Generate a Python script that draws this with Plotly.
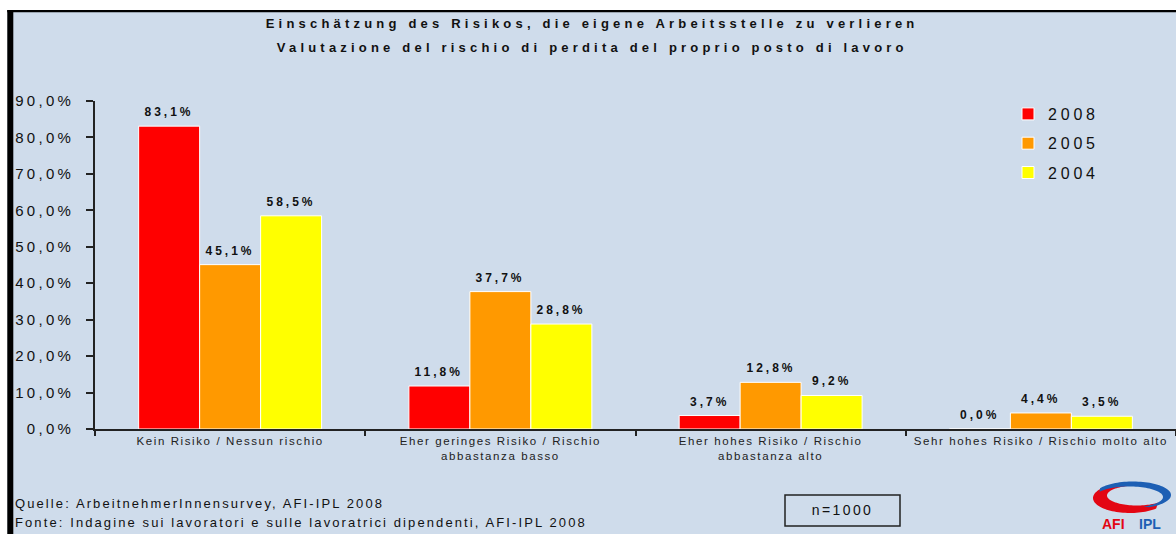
import json
import math
import plotly.graph_objects as go

# ---------------- data ----------------
categories = [
    "Kein Risiko / Nessun rischio",
    "Eher geringes Risiko / Rischio<br>abbastanza basso",
    "Eher hohes Risiko / Rischio<br>abbastanza alto",
    "Sehr hohes Risiko / Rischio molto alto",
]
series_names = ["2008", "2005", "2004"]
v2008 = [83.1, 11.8, 3.7, 0.0]
v2005 = [45.1, 37.7, 12.8, 4.4]
v2004 = [58.5, 28.8, 9.2, 3.5]
y_ticks = [0, 10, 20, 30, 40, 50, 60, 70, 80, 90]
y_tick_labels = ["0,0%", "10,0%", "20,0%", "30,0%", "40,0%", "50,0%",
                 "60,0%", "70,0%", "80,0%", "90,0%"]

title_lines = [
    "Einschätzung des Risikos, die eigene Arbeitsstelle zu verlieren",
    "Valutazione del rischio di perdita del proprio posto di lavoro",
]
footer_lines = [
    "Quelle: ArbeitnehmerInnensurvey, AFI-IPL 2008",
    "Fonte: Indagine sui lavoratori e sulle lavoratrici dipendenti, AFI-IPL 2008",
]
n_label = "n=1000"

# ---------------- layout helpers ----------------
W, H = 1176, 534
ML, MR, MT, MB = 95, 0, 101, 105
PW, PH = W - ML - MR, H - MT - MB
BG = "#cfdceb"
FONT = "Liberation Sans, Arial, sans-serif"
colors = ["#ff0000", "#ff9900", "#ffff00"]
BARGAP = 0.323


def xp(px):
    return (px - ML) / PW


def yp(py):
    return (H - MB - py) / PH


fig = go.Figure()
all_vals = [v2008, v2005, v2004]
for name, vals, col in zip(series_names, all_vals, colors):
    fig.add_trace(go.Bar(
        x=categories, y=vals, name=name, legendgroup=name,
        marker=dict(color=col, line=dict(color="white", width=1)),
        hoverinfo="skip",
    ))

annotations = []
spacing = []

# data labels
bw = (1 - BARGAP) / 3
for i, vals in enumerate(all_vals):
    for j, v in enumerate(vals):
        annotations.append(dict(
            x=j + (i - 1) * bw, y=v, xref="x", yref="y",
            text=("%.1f%%" % v).replace(".", ","),
            showarrow=False, yanchor="bottom", xanchor="center", yshift=5,
            font=dict(family=FONT, size=12, color="#111111", weight="bold"),
        ))
        spacing.append(3.0)

# title lines
for t, py in zip(title_lines, [24, 47]):
    annotations.append(dict(
        x=xp(592), y=yp(py), xref="paper", yref="paper", text=t,
        showarrow=False, xanchor="center", yanchor="middle",
        font=dict(family=FONT, size=13, color="#111111", weight="bold"),
    ))
    spacing.append(4.2)

# footer lines
for t, py in zip(footer_lines, [503, 522]):
    annotations.append(dict(
        x=xp(13), y=yp(py), xref="paper", yref="paper", text=t,
        showarrow=False, xanchor="left", yanchor="middle", align="left",
        font=dict(family=FONT, size=13, color="#111111"),
    ))
    spacing.append(2.1)

# n=1000
annotations.append(dict(
    x=xp(842), y=yp(510), xref="paper", yref="paper", text=n_label,
    showarrow=False, xanchor="center", yanchor="middle",
    font=dict(family=FONT, size=14, color="#111111"),
))
spacing.append(2.4)

# logo text
annotations.append(dict(
    x=xp(1113), y=yp(514), xref="paper", yref="paper", text="AFI",
    showarrow=False, xanchor="center", yanchor="top",
    font=dict(family=FONT, size=14, color="#e30613", weight="bold"),
))
spacing.append(0)
annotations.append(dict(
    x=xp(1150), y=yp(514), xref="paper", yref="paper", text="IPL",
    showarrow=False, xanchor="center", yanchor="top",
    font=dict(family=FONT, size=14, color="#1d5fb4", weight="bold"),
))
spacing.append(0)

shapes = []


def rect_px(x0, y0, x1, y1, color):
    return dict(type="rect", xref="paper", yref="paper",
                x0=xp(x0), x1=xp(x1), y0=yp(y1), y1=yp(y0),
                fillcolor=color, line=dict(width=0), layer="above")


shapes.append(rect_px(0, 0, 7.3, H, "white"))
shapes.append(rect_px(0, 0, W, 10, "white"))
shapes.append(rect_px(7.3, 10, W, 12.3, "black"))
shapes.append(rect_px(7.3, 10, 13.3, H, "black"))
# n box
shapes.append(dict(type="rect", xref="paper", yref="paper",
                   x0=xp(785), x1=xp(900), y0=yp(526), y1=yp(495),
                   line=dict(color="#222222", width=1.5), fillcolor="rgba(0,0,0,0)"))


def crescent(o, inn, t0, t1, n=60):
    pts = []
    for k in range(n + 1):
        t = math.radians(t0 + (t1 - t0) * k / n)
        pts.append((o[0] + o[2] * math.cos(t), o[1] - o[3] * math.sin(t)))
    for k in range(n + 1):
        t = math.radians(t1 + (t0 - t1) * k / n)
        pts.append((inn[0] + inn[2] * math.cos(t), inn[1] - inn[3] * math.sin(t)))
    return "M " + " L ".join("%.5f,%.5f" % (xp(a), yp(b)) for a, b in pts) + " Z"


shapes.append(dict(type="path", xref="paper", yref="paper",
                   path=crescent((1130, 498, 37, 15), (1137, 495.5, 30, 10), 105, 315),
                   fillcolor="#e30613", line=dict(width=0)))
shapes.append(dict(type="path", xref="paper", yref="paper",
                   path=crescent((1133, 495, 38, 13.5), (1129, 497, 34, 10.5), 150, -65),
                   fillcolor="#1d5fb4", line=dict(width=0)))

fig.update_layout(
    width=W, height=H,
    margin=dict(l=ML, r=MR, t=MT, b=MB, pad=0),
    paper_bgcolor=BG, plot_bgcolor="rgba(0,0,0,0)",
    barmode="group", bargap=BARGAP, bargroupgap=0,
    separators=",.",
    showlegend=True,
    legend=dict(x=xp(1008), y=yp(97), xanchor="left", yanchor="top",
                bgcolor="rgba(0,0,0,0)", tracegroupgap=5.5,
                font=dict(family=FONT, size=16, color="#111111")),
    font=dict(family=FONT, color="#111111"),
    annotations=annotations,
    shapes=shapes,
    xaxis=dict(
        range=[-0.5, 3.5], showline=True, linecolor="#222222", linewidth=1.5,
        ticks="outside", tickson="boundaries", ticklen=5, tickwidth=1.5,
        tickcolor="#222222", showgrid=False, zeroline=False, fixedrange=True,
        tickfont=dict(family=FONT, size=11.5, color="#222222"),
    ),
    yaxis=dict(
        range=[0, 90], tickmode="array", tickvals=y_ticks, ticktext=y_tick_labels,
        showline=True, linecolor="#222222", linewidth=1.5,
        ticks="outside", ticklen=7, tickwidth=1.5, tickcolor="#222222",
        showgrid=False, zeroline=False, fixedrange=True,
        ticklabelstandoff=9,
        tickfont=dict(family=FONT, size=15, color="#111111"),
    ),
)

post = """
var gd=document.getElementById('{plot_id}');
var ls=LSJSON;
gd.querySelectorAll('g.annotation').forEach(function(g){
  var i=+g.getAttribute('data-index');
  g.querySelectorAll('text').forEach(function(t){t.style.letterSpacing=ls[i]+'px';});
});
gd.querySelectorAll('.ytick text').forEach(function(t){t.style.letterSpacing='3.3px';});
gd.querySelectorAll('.xtick text').forEach(function(t){t.style.letterSpacing='1.6px';});
gd.querySelectorAll('.legendtext').forEach(function(t){t.style.letterSpacing='3.8px';});
gd.querySelectorAll('.legend [clip-path]').forEach(function(e){e.removeAttribute('clip-path');});
""".replace("LSJSON", json.dumps(spacing))

fig.write_html("out.html", config={"displayModeBar": False}, post_script=post)
